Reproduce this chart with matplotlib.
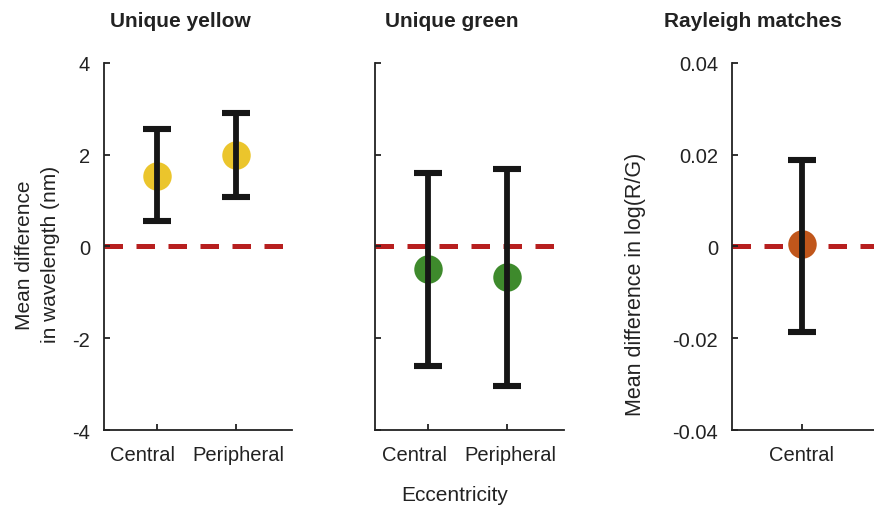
import matplotlib
matplotlib.use('Agg')
import matplotlib.pyplot as plt
import matplotlib.transforms as mtransforms
import numpy as np

plt.rcParams['font.family'] = ['Liberation Sans', 'DejaVu Sans']

# values
yellow_cats = ['Central', 'Peripheral']
yellow_mean = [1.54, 2.00]
yellow_lo = [0.55, 1.08]
yellow_hi = [2.56, 2.91]

green_cats = ['Central', 'Peripheral']
green_mean = [-0.49, -0.66]
green_lo = [-2.60, -3.04]
green_hi = [1.60, 1.69]

rayleigh_cats = ['Central']
rayleigh_mean = [0.0005]
rayleigh_lo = [-0.0186]
rayleigh_hi = [0.0189]

nm_ticks = [-4, -2, 0, 2, 4]
nm_labels = ['-4', '-2', '0', '2', '4']
rg_ticks = [-0.04, -0.02, 0, 0.02, 0.04]
rg_labels = ['-0.04', '-0.02', '0', '0.02', '0.04']

FS = 14.5
TXT = '#222222'

fig = plt.figure(figsize=(8.74, 5.06), dpi=100)

ax1 = fig.add_axes([0.119, 0.148, 0.215, 0.726])
ax2 = fig.add_axes([0.429, 0.148, 0.216, 0.726])
ax3 = fig.add_axes([0.8375, 0.148, 0.215, 0.726])


def panel(ax, cats, mean, lo, hi, color, xlim):
    x = np.arange(1, len(cats) + 1)
    mean = np.array(mean)
    err = [mean - np.array(lo), np.array(hi) - mean]
    ax.axhline(0, color='#b71f1f', lw=3.6, ls=(0, (3.7, 2.7)),
               dash_capstyle='butt', zorder=1)
    ax.plot(x, mean, 'o', ms=20.5, color=color, mec='none', zorder=2)
    ax.errorbar(x, mean, yerr=err, fmt='none', ecolor='#161616',
                elinewidth=4.2, capsize=10, capthick=4.4, zorder=3)
    ax.set_xticks(x)
    ax.set_xticklabels(cats)
    ax.set_xlim(*xlim)
    for s in ['top', 'right']:
        ax.spines[s].set_visible(False)
    for s in ['left', 'bottom']:
        ax.spines[s].set_linewidth(1.3)
        ax.spines[s].set_color(TXT)
    ax.tick_params(direction='in', length=4, width=1.3, labelsize=FS,
                   colors=TXT, labelcolor=TXT)
    ax.tick_params(axis='y', pad=10)
    ax.tick_params(axis='x', pad=11)
    # in the two-category panels the labels are spread apart a little
    if len(cats) == 2:
        shifts = [-14, 3]
        for lab, dx in zip(ax.get_xticklabels(), shifts):
            off = mtransforms.ScaledTranslation(dx / 100, 0, fig.dpi_scale_trans)
            lab.set_transform(lab.get_transform() + off)


panel(ax1, yellow_cats, yellow_mean, yellow_lo, yellow_hi, '#ebc52c', (0.33, 2.71))
ax1.set_ylim(-4, 4)
ax1.set_yticks(nm_ticks)
ax1.set_yticklabels(nm_labels)
ax1.set_ylabel('Mean difference\nin wavelength (nm)', fontsize=15, color=TXT,
               linespacing=1.45, va='center')
ax1.yaxis.set_label_coords(-0.355, 0.48)

panel(ax2, green_cats, green_mean, green_lo, green_hi, '#3e8a2c', (0.33, 2.71))
ax2.set_ylim(-4, 4)
ax2.set_yticks(nm_ticks)
ax2.set_yticklabels([])
ax2.set_xlabel('Eccentricity', fontsize=15, color=TXT, va='center')
ax2.xaxis.set_label_coords(0.423, -0.174)

panel(ax3, rayleigh_cats, rayleigh_mean, rayleigh_lo, rayleigh_hi, '#c0561b', (0.35, 2.1))
ax3.set_ylim(-0.04, 0.04)
ax3.set_yticks(rg_ticks)
ax3.set_yticklabels(rg_labels)
ax3.set_ylabel('Mean difference in log(R/G)', fontsize=15.5, color=TXT, va='center')
ax3.yaxis.set_label_coords(-0.516, 0.40)

fig.text(0.206, 0.958, 'Unique yellow', ha='center', va='center',
         fontsize=15, fontweight='bold', color=TXT)
fig.text(0.517, 0.958, 'Unique green', ha='center', va='center',
         fontsize=15, fontweight='bold', color=TXT)
fig.text(0.861, 0.958, 'Rayleigh matches', ha='center', va='center',
         fontsize=15, fontweight='bold', color=TXT)

fig.savefig('out.png', dpi=100)
